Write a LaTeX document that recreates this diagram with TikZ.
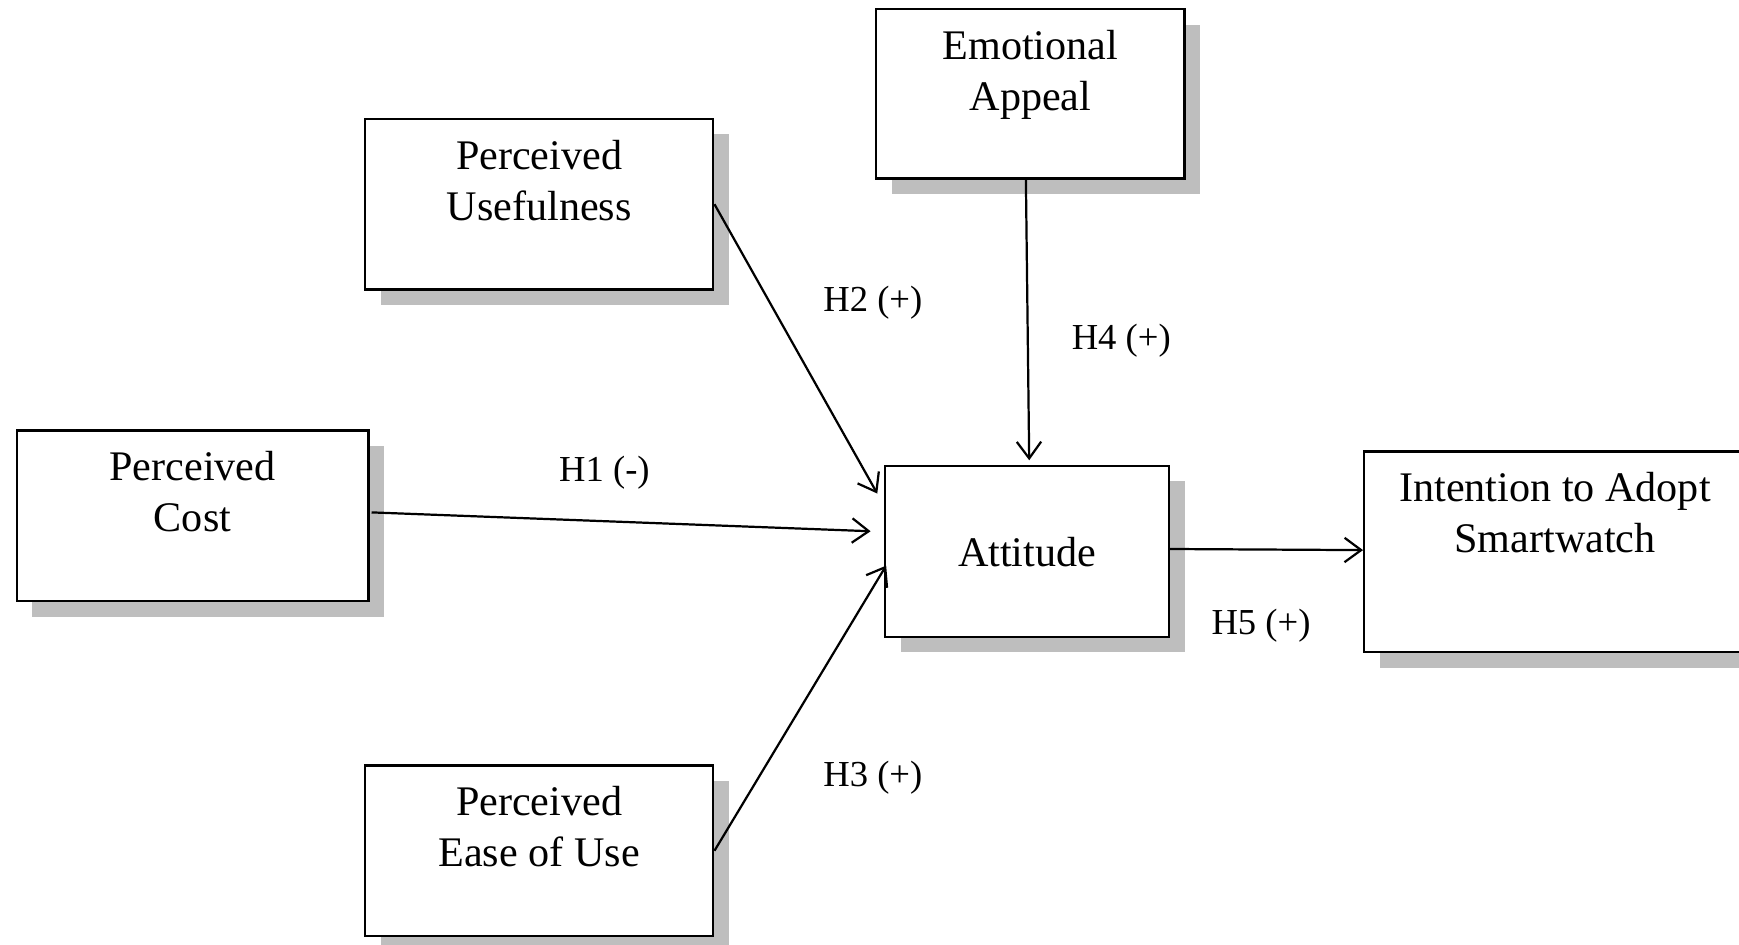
\documentclass[tikz,border=0pt]{standalone}
\usepackage{fontspec}
\setmainfont{Liberation Serif}
\usetikzlibrary{arrows.meta,shadows,calc}
\definecolor{shadowgray}{RGB}{190,190,190}
\begin{document}
\begin{tikzpicture}[x=1pt,y=-1pt,
  box/.style={draw=black,line width=2.2pt,fill=white,minimum width=#1,anchor=north west,inner sep=0pt,
    drop shadow={shadow xshift=14pt,shadow yshift=-14pt,fill=shadowgray,opacity=1}},
  boxtxt/.style={font=\fontsize{38}{46}\selectfont,align=center,inner sep=0pt,anchor=north},
  hlabel/.style={font=\fontsize{33}{38}\selectfont,inner sep=0pt},
  conn/.style={line width=2pt,-{Straight Barb[length=15pt,width=22pt,line width=2pt]}}]
\useasboundingbox (0,0) rectangle (1568,852);
\fill[white] (0,0) rectangle (1568,852);
\begin{scope}
\clip (0,0) rectangle (1568,852);
% boxes
\node[box=278pt,minimum height=153pt] (ea) at (789,7) {};
\node[box=314pt,minimum height=154pt] (pu) at (328,106) {};
\node[box=317pt,minimum height=154pt] (pc) at (14,387) {};
\node[box=256pt,minimum height=154pt] (att) at (797,419) {};
\node[box=344pt,minimum height=181pt] (ia) at (1229,406) {};
\node[box=314pt,minimum height=154pt] (peu) at (328,689) {};
% box texts
\node[boxtxt] (eat) at ($(ea.north)+(0,20)$) {Emotional\\Appeal};
\node[boxtxt] (put) at ($(pu.north)+(0,20)$) {Perceived\\Usefulness};
\node[boxtxt] (pct) at ($(pc.north)+(0,20)$) {Perceived\\Cost};
\node[boxtxt,anchor=center] (attt) at ($(att.center)+(0,1)$) {Attitude};
\node[boxtxt] (iat) at ($(ia.north)+(0,20)$) {Intention to Adopt\\Smartwatch};
\node[boxtxt] (peut) at ($(peu.north)+(0,20)$) {Perceived\\Ease of Use};
% arrow tips
\coordinate (t2) at (791,445);
\coordinate (t1) at (785,479);
\coordinate (t3) at (799,510);
\coordinate (t4) at (928,415);
\coordinate (s1) at (335,462);
\coordinate (s4) at (925,161);
\coordinate (s5) at (1054,495);
\coordinate (t5) at (1229,496);
% connectors
\draw[conn] (pu.east) -- (t2);
\draw[conn] (s1) -- (t1);
\draw[conn] (peu.east) -- (t3);
\draw[conn] (s4) -- (t4);
\draw[conn] (s5) -- (t5);
% labels
\node[hlabel] (h2) at (787,273) {H2 (+)};
\node[hlabel] (h4) at (1011,307) {H4 (+)};
\node[hlabel] (h1) at (545,426) {H1 (-)};
\node[hlabel] (h5) at (1137,564) {H5 (+)};
\node[hlabel] (h3) at (787,701) {H3 (+)};
\end{scope}
\end{tikzpicture}
\end{document}
